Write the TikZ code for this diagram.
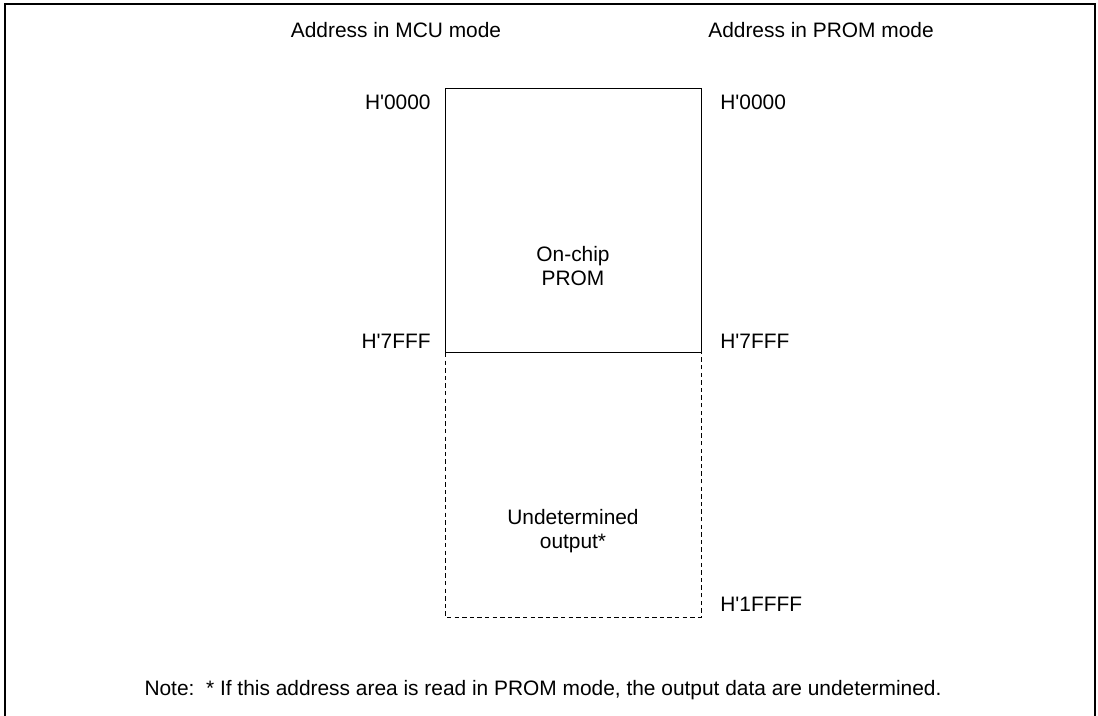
\documentclass[tikz,border=0pt]{standalone}
\usepackage{fontspec}
\setmainfont{Liberation Sans}
\begin{document}
\begin{tikzpicture}[x=0.5pt,y=-0.5pt,
  lbl/.style={inner sep=0pt,font=\fontsize{10.45}{11}\selectfont},
  ctr/.style={lbl,align=center},
  mem/.style={draw,line width=0.5pt},
  undet/.style={draw,line width=0.5pt,dash pattern=on 2.2pt off 1.6pt}]
\useasboundingbox (0,0) rectangle (1098,716);
\begin{scope}
\clip (0,0) rectangle (1098,716);
\draw[line width=1pt] (5,730) -- (5,4) -- (1095,4) -- (1095,730);
\end{scope}
\node[lbl] (hmcu) at (396,30) {Address in MCU mode};
\node[lbl] (hprom) at (821,30) {Address in PROM mode};
\coordinate (tl) at (445,89);
\coordinate (mr) at (701,353);
\coordinate (ml) at (445,353);
\coordinate (br) at (701,617);
\draw[undet] (ml) -- (ml |- br) -- (br) -- (mr);
\draw[mem] (tl) rectangle (mr);
\node[ctr] (prom) at (573,266) {On-chip\\[1pt]PROM};
\node[ctr] (und) at (573,531) {Undetermined\\[1pt]output*};
\node[lbl,anchor=east] (a0) at (431,102) {H\textquotesingle 0000};
\node[lbl,anchor=west] (b0) at (720,102) {H\textquotesingle 0000};
\node[lbl,anchor=east] (a7) at (431,341) {H\textquotesingle 7FFF};
\node[lbl,anchor=west] (b7) at (720,341) {H\textquotesingle 7FFF};
\node[lbl,anchor=west] (b1) at (720,604) {H\textquotesingle 1FFFF};
\node[lbl] (note) at (543,690) {Note:\ \ * If this address area is read in PROM mode, the output data are undetermined.};
\end{tikzpicture}
\end{document}
